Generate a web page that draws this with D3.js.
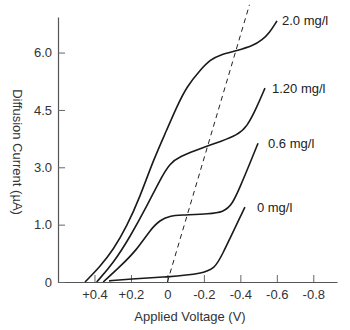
<!DOCTYPE html>
<html>
<head>
<meta charset="utf-8">
<script src="https://cdn.jsdelivr.net/npm/d3@7"></script>
<style>
	body { margin: 0; background: #fff; }
	svg { display: block; font-family: 'Liberation Sans', Arial, sans-serif; }
</style>
</head>
<body>
<div id="chart"></div>
<script>
/* global d3 */
// applied voltage (V) vs diffusion current (uA)
const seriesNames = ['2.0 mg/l', '1.20 mg/l', '0.6 mg/l', '0 mg/l']

const curve20 = [
	[0.452, 0], [0.370, 0.40], [0.297, 0.84], [0.223, 1.45], [0.150, 2.23],
	[0.077, 3.19], [0.004, 3.97], [-0.051, 4.58], [-0.106, 5.11], [-0.179, 5.54],
	[-0.234, 5.81], [-0.288, 5.94], [-0.382, 6.05], [-0.470, 6.18], [-0.520, 6.33],
	[-0.560, 6.52], [-0.601, 6.83]
]
const curve12 = [
	[0.388, 0], [0.297, 0.49], [0.205, 1.18], [0.114, 1.97], [0.041, 2.67],
	[-0.014, 3.11], [-0.069, 3.28], [-0.161, 3.45], [-0.234, 3.58], [-0.288, 3.67],
	[-0.382, 3.84], [-0.436, 4.05], [-0.491, 4.58], [-0.535, 5.07]
]
const curve06 = [
	[0.352, 0], [0.260, 0.40], [0.168, 0.84], [0.095, 1.36], [0.041, 1.62],
	[-0.014, 1.73], [-0.069, 1.75], [-0.234, 1.78], [-0.305, 1.83], [-0.354, 2.01],
	[-0.398, 2.48], [-0.453, 3.11], [-0.497, 3.63]
]
const curve00 = [
	[0.320, 0.03], [0.210, 0.08], [0.002, 0.13], [-0.195, 0.21], [-0.261, 0.39],
	[-0.288, 0.58], [-0.425, 1.96]
]
// half-wave potential guide line
const dashedLine = [[0, 0], [-0.45, 7.25]]

const xTickValues = [0.4, 0.2, 0, -0.2, -0.4, -0.6, -0.8]
const xTickLabels = ['+0.4', '+0.2', '0', '-0.2', '-0.4', '-0.6', '-0.8']
const yTickValues = [0, 1.5, 3, 4.5, 6]
const yTickLabels = ['0', '1.0', '3.0', '4.5', '6.0']

const width = 350
const height = 330

const x = d3.scaleLinear().domain([0.6, -0.93]).range([58, 337])
const y = d3.scaleLinear().domain([0, 6.93]).range([282, 17])

const svg = d3.select('#chart')
	.append('svg')
	.attr('width', width)
	.attr('height', height)

const xAxis = d3.axisBottom(x)
	.tickValues(xTickValues)
	.tickFormat((d, i) => xTickLabels[i])
	.tickSizeInner(-7)
	.tickSizeOuter(0)
	.tickPadding(8)

const yAxis = d3.axisLeft(y)
	.tickValues(yTickValues)
	.tickFormat((d, i) => yTickLabels[i])
	.tickSizeInner(-7)
	.tickSizeOuter(0)
	.tickPadding(6)

function styleAxis(g) {
	g.select('.domain').attr('stroke', '#555').attr('stroke-width', 1.2)
	g.selectAll('.tick line').attr('stroke', '#666')
	g.selectAll('.tick text')
		.attr('fill', '#333')
		.style('font-size', '13px')
	g.attr('font-family', null)
}

svg.append('g')
	.attr('transform', `translate(0, ${y(0)})`)
	.call(xAxis)
	.call(styleAxis)

svg.append('g')
	.attr('transform', `translate(${x(0.6)}, 0)`)
	.call(yAxis)
	.call(styleAxis)

// axis titles
svg.append('text')
	.attr('x', 190)
	.attr('y', 321)
	.attr('text-anchor', 'middle')
	.attr('fill', '#333')
	.style('font-size', '13px')
	.text('Applied Voltage (V)')

svg.append('text')
	.attr('transform', 'translate(13, 152) rotate(90)')
	.attr('text-anchor', 'middle')
	.attr('fill', '#333')
	.style('font-size', '13px')
	.text('Diffusion Current (\u00b5A)')

// b-spline rounds the knees like the hand-drawn original
const line = d3.line()
	.x(d => x(d[0]))
	.y(d => y(d[1]))
	.curve(d3.curveBasis)

svg.append('path')
	.attr('d', d3.line().x(d => x(d[0])).y(d => y(d[1]))(dashedLine))
	.attr('fill', 'none')
	.attr('stroke', '#222')
	.attr('stroke-width', 1)
	.attr('stroke-dasharray', '5,4')

const curves = [curve20, curve12, curve06, curve00]
const labelDx = [5, 7, 10, 12]

svg.selectAll('path.curve')
	.data(curves)
	.enter()
	.append('path')
	.classed('curve', true)
	.attr('d', line)
	.attr('fill', 'none')
	.attr('stroke', '#1a1a1a')
	.attr('stroke-width', 1.6)

svg.selectAll('text.label')
	.data(curves)
	.enter()
	.append('text')
	.classed('label', true)
	.attr('x', (d, i) => x(d[d.length - 1][0]) + labelDx[i])
	.attr('y', d => y(d[d.length - 1][1]))
	.attr('dy', '0.35em')
	.attr('fill', '#222')
	.style('font-size', '13px')
	.text((d, i) => seriesNames[i])
</script>
</body>
</html>
